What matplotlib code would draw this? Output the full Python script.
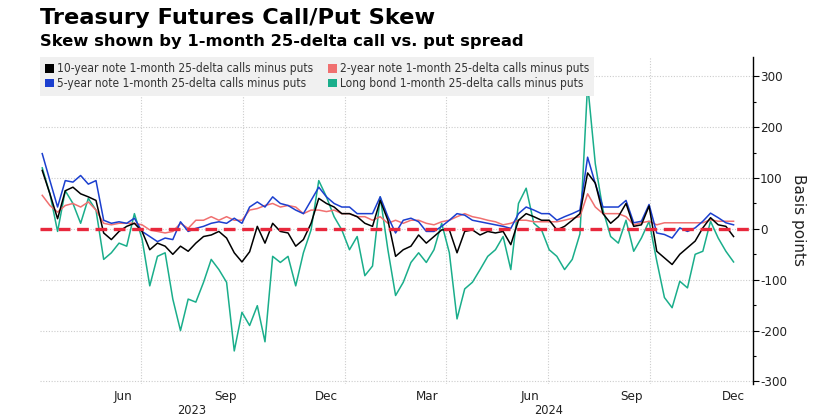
import matplotlib
matplotlib.use("Agg")
import matplotlib.pyplot as plt
import matplotlib.dates as mdates
import matplotlib.transforms as mtransforms
from matplotlib.patches import Patch
from matplotlib.ticker import FixedLocator, FixedFormatter, MultipleLocator
import pandas as pd
from matplotlib import font_manager as fm

# ---------------- data ----------------
# values at a regular sampling step (~6.9 days)
start_date = "2023-04-03"
n_points = 91
sample_step = "166h"

ten_year = [
    115, 69, 20, 75, 82, 69, 63, 56, -8, -21,
    -5, 5, 11, -5, -41, -28, -34, -50, -34, -44,
    -28, -15, -12, -5, -18, -47, -65, -45, 5, -28,
    11, -5, -8, -34, -21, 11, 60, 50, 43, 30,
    30, 24, 11, 5, 56, 17, -54, -41, -34, -12,
    -28, -15, -2, -2, -47, -5, -2, -12, -5, -8,
    -5, -31, 17, 30, 24, 17, 17, -2, 5, 17,
    30, 110, 90, 30, 11, 24, 50, 5, 8, 45,
    -44, -57, -70, -50, -37, -24, 2, 22, 8, 5,
    -15]

long_bond = [
    120, 69, -5, 75, 50, 11, 60, 37, -60, -47,
    -28, -34, 30, -20, -112, -54, -47, -138, -200, -138,
    -144, -105, -60, -80, -105, -240, -164, -190, -151, -222,
    -54, -66, -54, -112, -47, -2, 95, 63, 24, -2,
    -41, -15, -92, -73, 63, -41, -131, -105, -66, -47,
    -66, -41, 11, -47, -177, -118, -105, -80, -54, -41,
    -15, -80, 50, 80, 11, -2, -41, -54, -80, -60,
    -10, 285, 128, 37, -15, -28, 17, -44, -18, 15,
    -63, -135, -155, -103, -116, -50, -44, 15, -18, -44,
    -65]

five_year = [
    148, 95, 43, 95, 92, 105, 88, 95, 17, 11,
    14, 11, 21, -5, -15, -25, -18, -21, 14, -5,
    1, 5, 11, 14, 11, 21, 11, 43, 53, 43,
    63, 50, 46, 37, 30, 56, 82, 63, 50, 43,
    43, 30, 30, 30, 63, 24, -8, 17, 21, 14,
    -5, -5, 5, 17, 30, 27, 17, 14, 11, 8,
    5, 1, 30, 43, 37, 30, 30, 17, 24, 30,
    37, 141, 89, 43, 43, 43, 56, 12, 15, 48,
    -8, -11, -18, 2, -5, 2, 15, 31, 22, 12,
    8]

two_year = [
    66, 46, 33, 46, 50, 43, 53, 37, 11, 8,
    11, 11, 11, 8, -2, -5, -8, -5, 11, 1,
    17, 17, 24, 17, 24, 17, 17, 37, 40, 46,
    50, 43, 46, 43, 30, 37, 37, 34, 37, 30,
    30, 24, 24, 17, 24, 11, 17, 11, 17, 17,
    11, 8, 14, 17, 24, 30, 24, 21, 17, 14,
    8, 11, 17, 17, 14, 14, 14, 14, 17, 21,
    24, 69, 43, 30, 30, 30, 24, 8, 12, 15,
    8, 12, 12, 12, 12, 12, 12, 18, 15, 15,
    15]

series_labels = [
    "10-year note 1-month 25-delta calls minus puts",
    "5-year note 1-month 25-delta calls minus puts",
    "2-year note 1-month 25-delta calls minus puts",
    "Long bond 1-month 25-delta calls minus puts",
]
month_tick_dates = ["2023-06-15", "2023-09-15", "2023-12-15", "2024-03-15",
                    "2024-06-15", "2024-09-15", "2024-12-15"]
month_tick_labels = ["Jun", "Sep", "Dec", "Mar", "Jun", "Sep", "Dec"]
grid_dates = ["2023-07-01", "2023-10-01", "2024-01-01", "2024-04-01",
              "2024-07-01", "2024-10-01"]
year_labels = ["2023", "2024"]
year_label_dates = ["2023-08-16", "2024-07-02"]
y_ticks = [-300, -200, -100, 0, 100, 200, 300]

title = "Treasury Futures Call/Put Skew"
subtitle = "Skew shown by 1-month 25-delta call vs. put spread"

# ---------------- style ----------------
plt.rcParams["axes.unicode_minus"] = False
plt.rcParams["font.family"] = ["DejaVu Sans"]

def has_condensed():
    for f in fm.fontManager.ttflist:
        if "Condensed" in f.fname and "DejaVuSans" in f.fname:
            return True
    return False

COND = "condensed" if has_condensed() else "normal"

c_black = "#000000"
c_blue = "#1b3fcf"
c_salmon = "#f07070"
c_teal = "#1aae8b"
c_zero = "#e8283c"

dates = pd.date_range(start_date, periods=n_points, freq=sample_step)

fig = plt.figure(figsize=(8.19, 4.18), dpi=100)
ax = fig.add_axes([40 / 819, 1 - 384 / 418, (753 - 40) / 819, (384 - 57) / 418])

ax.set_xlim(pd.Timestamp("2023-04-01"), pd.Timestamp("2025-01-02"))
ax.set_ylim(-305, 338)

# grid
for g in grid_dates:
    ax.axvline(pd.Timestamp(g), color="#cccccc", lw=0.8, ls=(0, (1, 1.5)), zorder=0)
for yv in y_ticks:
    ax.axhline(yv, color="#cccccc", lw=0.8, ls=(0, (1, 1.5)), zorder=0)

ax.plot(dates, long_bond, color=c_teal, lw=1.1, zorder=2)
ax.plot(dates, two_year, color=c_salmon, lw=1.1, zorder=3)
ax.plot(dates, five_year, color=c_blue, lw=1.1, zorder=4)
ax.plot(dates, ten_year, color=c_black, lw=1.1, zorder=5)
ax.axhline(0, color=c_zero, lw=2.4, ls=(0, (3.5, 2)), zorder=6)

# spines
for s in ["left", "top", "bottom"]:
    ax.spines[s].set_visible(False)
ax.spines["right"].set_color("#000000")
ax.spines["right"].set_linewidth(1.0)

# y axis right
ax.yaxis.tick_right()
ax.yaxis.set_label_position("right")
ax.set_yticks(y_ticks)
ax.set_yticklabels([str(v) for v in y_ticks])
ax.yaxis.set_minor_locator(MultipleLocator(50))
ax.tick_params(axis="y", which="major", length=4, width=0.8, pad=1,
               labelsize=9.5, colors="#000000", labelcolor="#222222")
ax.tick_params(axis="y", which="minor", length=2.5, width=0.8, colors="#000000")
for lab in ax.get_yticklabels():
    lab.set_fontstretch(COND)
ax.set_ylabel("Basis points", rotation=270, fontsize=11, labelpad=14, color="#222222")

# x axis
ax.xaxis.set_major_locator(FixedLocator(mdates.date2num(pd.to_datetime(month_tick_dates))))
ax.xaxis.set_major_formatter(FixedFormatter(month_tick_labels))
ax.tick_params(axis="x", which="major", length=0, pad=4, labelsize=9.5, labelcolor="#222222")
for lab in ax.get_xticklabels():
    lab.set_fontstretch(COND)

trans = mtransforms.blended_transform_factory(ax.transData, ax.transAxes)
for lbl, d in zip(year_labels, year_label_dates):
    ax.text(pd.Timestamp(d), -20 / 327, lbl, transform=trans, ha="center", va="top",
            fontsize=9.2, color="#222222", fontstretch=COND)

# legend
handles = [Patch(facecolor=c, edgecolor="none") for c in [c_black, c_blue, c_salmon, c_teal]]
leg = ax.legend(handles, series_labels, ncol=2, loc="upper left", bbox_to_anchor=(0, 1),
                borderaxespad=0, frameon=True, fancybox=False,
                handlelength=0.75, handleheight=0.75, handletextpad=0.25,
                columnspacing=1.2, labelspacing=0.15, borderpad=0.45,
                prop={"size": 8.6, "stretch": COND})
leg.get_frame().set_facecolor("#f0f0f0")
leg.get_frame().set_edgecolor("none")
leg.get_frame().set_alpha(1)
leg.set_zorder(10)
for t in leg.get_texts():
    t.set_color("#333333")

# titles
fig.text(40 / 819, 1 - 8 / 418, title, fontsize=16.2, fontweight="bold", ha="left", va="top", color="#000000")
fig.text(40 / 819, 1 - 34 / 418, subtitle, fontsize=11.8, fontweight="bold", ha="left", va="top", color="#000000")

fig.savefig("out.png", dpi=100)
